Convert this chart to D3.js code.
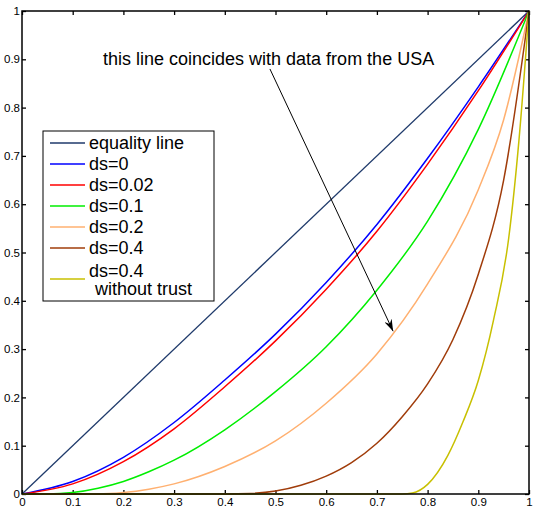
<!DOCTYPE html>
<html>
<head>
<meta charset="utf-8">
<script src="https://cdn.jsdelivr.net/npm/d3@7"></script>
<style>
  body { margin: 0; background: #fff; }
  svg text { font-family: "Liberation Sans", Arial, Helvetica, sans-serif; }
</style>
</head>
<body>
<div id="chart"></div>
<script>
'use strict';

/*** Data */
const tickValues = [0, 0.1, 0.2, 0.3, 0.4, 0.5, 0.6, 0.7, 0.8, 0.9, 1];
const tickLabels = ["0", "0.1", "0.2", "0.3", "0.4", "0.5", "0.6", "0.7", "0.8", "0.9", "1"];

const equalityLine = [[0, 0], [1, 1]];
const ds0 = [[0, 0], [0.1, 0.026], [0.2, 0.076], [0.3, 0.148], [0.4, 0.236], [0.5, 0.331],
             [0.6, 0.438], [0.7, 0.558], [0.8, 0.695], [0.9, 0.843], [1, 1]];
const ds002 = [[0, 0], [0.1, 0.021], [0.2, 0.067], [0.3, 0.135], [0.4, 0.222], [0.5, 0.317],
               [0.6, 0.424], [0.7, 0.544], [0.8, 0.683], [0.9, 0.835], [1, 1]];
const ds01 = [[0, 0], [0.05, 0], [0.1, 0.003], [0.15, 0.012], [0.2, 0.026], [0.25, 0.046],
              [0.3, 0.07], [0.4, 0.133], [0.5, 0.212], [0.6, 0.305], [0.7, 0.422], [0.8, 0.565],
              [0.9, 0.755], [1, 1]];
const ds02 = [[0, 0], [0.15, 0], [0.2, 0.003], [0.25, 0.01], [0.3, 0.021], [0.4, 0.057],
              [0.5, 0.11], [0.6, 0.188], [0.7, 0.29], [0.8, 0.435], [0.9, 0.63],
              [0.95, 0.775], [1, 1]];
const ds04 = [[0, 0], [0.4, 0], [0.45, 0.001], [0.5, 0.006], [0.55, 0.018], [0.6, 0.037],
              [0.65, 0.065], [0.7, 0.105], [0.75, 0.16], [0.8, 0.228], [0.85, 0.32],
              [0.9, 0.455], [0.95, 0.65], [1, 1]];
const ds04NoTrust = [[0, 0], [0.75, 0], [0.77, 0.002], [0.8, 0.02], [0.84, 0.08], [0.87, 0.15],
                     [0.9, 0.235], [0.93, 0.36], [0.96, 0.53], [0.98, 0.73], [1, 1]];

const seriesNames = ["equality line", "ds=0", "ds=0.02", "ds=0.1", "ds=0.2", "ds=0.4", "ds=0.4"];
const seriesData = [equalityLine, ds0, ds002, ds01, ds02, ds04, ds04NoTrust];
const seriesColors = ["#1f3a6b", "#0000ff", "#ff0000", "#00ee00", "#ffb070", "#a03c0a", "#c8c000"];

const annotation = "this line coincides with data from the USA";
const arrowFrom = [0.489, 0.880];
const arrowTo = [0.732, 0.337];

/*** Layout */
const w = 542;
const h = 510;
const plot = { left: 22, right: 529, top: 11, bottom: 494 };

const svg = d3.select("#chart")
    .append("svg")
    .attr("width", w)
    .attr("height", h);

const xScale = d3.scaleLinear().domain([0, 1]).range([plot.left, plot.right]);
const yScale = d3.scaleLinear().domain([0, 1]).range([plot.bottom, plot.top]);

const fmt = (d) => tickLabels[tickValues.indexOf(d)];

/** Axes, ticks inward on all four sides */
svg.append("g")
    .attr("transform", "translate(0," + plot.bottom + ")")
    .call(d3.axisBottom(xScale).tickValues(tickValues).tickFormat(fmt)
        .tickSizeInner(-4).tickSizeOuter(0).tickPadding(4));
svg.append("g")
    .attr("transform", "translate(0," + plot.top + ")")
    .call(d3.axisTop(xScale).tickValues(tickValues).tickFormat("")
        .tickSizeInner(-4).tickSizeOuter(0));
svg.append("g")
    .attr("transform", "translate(" + plot.left + ",0)")
    .call(d3.axisLeft(yScale).tickValues(tickValues).tickFormat(fmt)
        .tickSizeInner(-4).tickSizeOuter(0).tickPadding(2));
svg.append("g")
    .attr("transform", "translate(" + plot.right + ",0)")
    .call(d3.axisRight(yScale).tickValues(tickValues).tickFormat("")
        .tickSizeInner(-4).tickSizeOuter(0));

svg.selectAll(".domain").remove();
svg.selectAll(".tick line").attr("stroke", "#000").attr("stroke-width", 1.3);
svg.selectAll(".tick text").attr("font-size", 11.5).attr("fill", "#000")
    .style("font-family", "'Liberation Sans', Arial, sans-serif");

/** Curves */
const line = d3.line()
    .x((d) => xScale(d[0]))
    .y((d) => yScale(d[1]))
    .curve(d3.curveMonotoneX);

svg.append("g")
    .selectAll("path")
    .data(seriesData)
    .join("path")
    .attr("d", line)
    .attr("fill", "none")
    .attr("stroke", (d, i) => seriesColors[i])
    .attr("stroke-width", (d, i) => i === 0 ? 1.3 : 1.5);

/** Frame */
svg.append("rect")
    .attr("x", plot.left).attr("y", plot.top)
    .attr("width", plot.right - plot.left).attr("height", plot.bottom - plot.top)
    .attr("fill", "none").attr("stroke", "#000").attr("stroke-width", 1.5);

/** Annotation with arrow */
svg.append("defs").append("marker")
    .attr("id", "arrowhead")
    .attr("viewBox", "0 0 12 8")
    .attr("refX", 12).attr("refY", 4)
    .attr("markerWidth", 12).attr("markerHeight", 8)
    .attr("markerUnits", "userSpaceOnUse")
    .attr("orient", "auto")
    .append("path")
    .attr("d", "M0,0 L12,4 L0,8 L4,4 Z")
    .attr("fill", "#000");

svg.append("line")
    .attr("x1", xScale(arrowFrom[0])).attr("y1", yScale(arrowFrom[1]))
    .attr("x2", xScale(arrowTo[0])).attr("y2", yScale(arrowTo[1]))
    .attr("stroke", "#000").attr("stroke-width", 1)
    .attr("marker-end", "url(#arrowhead)");

svg.append("text")
    .attr("x", 103).attr("y", 65)
    .attr("font-size", 18)
    .text(annotation);

/** Legend */
const legend = svg.append("g");
legend.append("rect")
    .attr("x", 43).attr("y", 131)
    .attr("width", 171).attr("height", 170)
    .attr("fill", "#fff").attr("stroke", "#000").attr("stroke-width", 1);

const rowY = (i) => i < 6 ? 143 + i * 21 : 279;
const textY = (i) => i < 6 ? 149 + i * 21 : 277;
const items = legend.selectAll("g.item")
    .data(seriesNames)
    .join("g")
    .attr("class", "item");
items.append("line")
    .attr("x1", 50).attr("x2", 85)
    .attr("y1", (d, i) => rowY(i)).attr("y2", (d, i) => rowY(i))
    .attr("stroke", (d, i) => seriesColors[i])
    .attr("stroke-width", 1.5);
items.append("text")
    .attr("x", 89)
    .attr("y", (d, i) => textY(i))
    .attr("font-size", 18)
    .text((d) => d);
legend.append("text")
    .attr("x", 95).attr("y", 295)
    .attr("font-size", 18)
    .text("without trust");
</script>
</body>
</html>
